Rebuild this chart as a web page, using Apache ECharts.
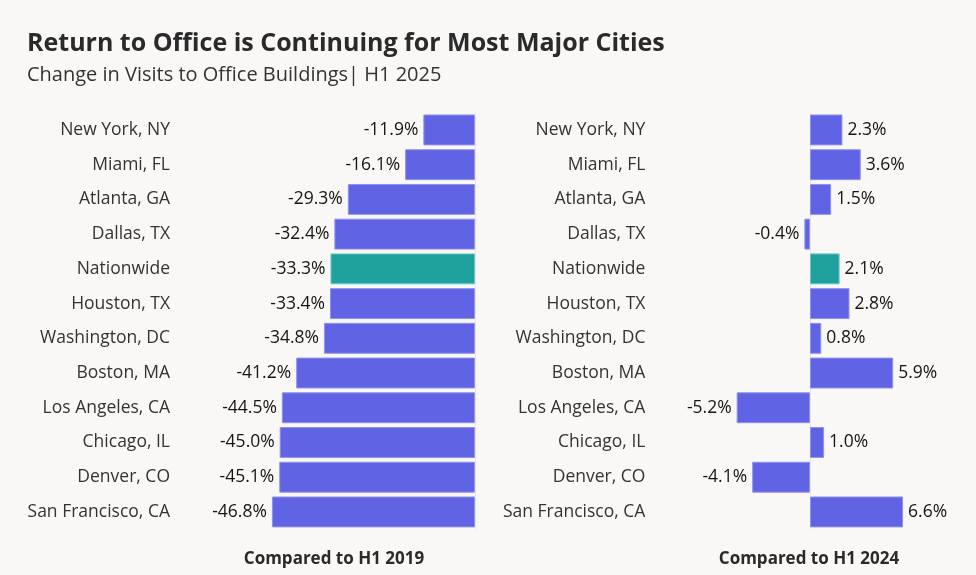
<!DOCTYPE html>
<html>
<head>
<meta charset="utf-8">
<script src="https://cdn.jsdelivr.net/npm/echarts@6/dist/echarts.min.js"></script>
<style>
html,body{margin:0;padding:0;background:#f9f8f6;}
#c{width:976px;height:575px;}
</style>
</head>
<body>
<div id="c"></div>
<script>
const cities = ['New York, NY','Miami, FL','Atlanta, GA','Dallas, TX','Nationwide','Houston, TX','Washington, DC','Boston, MA','Los Angeles, CA','Chicago, IL','Denver, CO','San Francisco, CA'];
const vs2019 = [-11.9,-16.1,-29.3,-32.4,-33.3,-33.4,-34.8,-41.2,-44.5,-45.0,-45.1,-46.8];
const vs2024 = [2.3,3.6,1.5,-0.4,2.1,2.8,0.8,5.9,-5.2,1.0,-4.1,6.6];
const highlight = 'Nationwide';

const FONT = '"Open Sans", sans-serif';
const BLUE = '#6063e3', BLUE_B = '#8f92ee';
const TEAL = '#1fa29d', TEAL_B = '#6cc7c2';

function mkData(vals){
  return vals.map((v,i)=>({
    value: v,
    itemStyle: cities[i]===highlight ? {color:TEAL,borderColor:TEAL_B} : {color:BLUE,borderColor:BLUE_B},
    label: {position: v<0 ? 'left' : 'right'}
  }));
}

const chart = echarts.init(document.getElementById('c'), null, {renderer:'canvas'});
const TOP = 112.6, BOTTOM = 575-529.3;
const catAxis = (gi)=>({
  type:'category', gridIndex:gi, data:cities, inverse:true,
  axisLine:{show:false}, axisTick:{show:false},
  axisLabel:{fontFamily:FONT, fontSize:17.5, color:'#333', margin: gi===0 ? 88 : 80,
    padding:[5,0,0,0]}
});
const valAxis = (gi,min,max)=>({
  type:'value', gridIndex:gi, min:min, max:max,
  axisLine:{show:false}, axisTick:{show:false}, axisLabel:{show:false}, splitLine:{show:false}
});
const series = (gi,vals)=>({
  type:'bar', xAxisIndex:gi, yAxisIndex:gi, data:mkData(vals),
  barCategoryGap:'11%',
  itemStyle:{borderWidth:1},
  label:{show:true, distance:5, fontFamily:FONT, fontSize:17.5, color:'#151515',
    padding:[4,0,0,0],
    formatter:p=>p.value.toFixed(1)+'%'},
  markLine:{silent:true, symbol:'none', label:{show:false},
    lineStyle:{color:'#e6e6e6', type:'solid', width:1}, data:[{xAxis:0}], z:1},
  animation:false
});

chart.setOption({
  backgroundColor:'#f9f8f6',
  animation:false,
  title:[
    {text:'Return to Office is Continuing for Most Major Cities', left:22, top:26,
      textStyle:{fontFamily:FONT, fontSize:25, fontWeight:'bold', color:'#2a2a2a'}},
    {text:'Change in Visits to Office Buildings| H1 2025', left:22, top:60,
      textStyle:{fontFamily:FONT, fontSize:20, fontWeight:'normal', color:'#333'}},
    {text:'Compared to H1 2019', left:329, top:546, textAlign:'center',
      textStyle:{fontFamily:FONT, fontSize:17, fontWeight:'bold', color:'#2a2a2a'}},
    {text:'Compared to H1 2024', left:804, top:546, textAlign:'center',
      textStyle:{fontFamily:FONT, fontSize:17, fontWeight:'bold', color:'#2a2a2a'}}
  ],
  grid:[
    {left:258, width:217, top:TOP, bottom:BOTTOM},
    {left:725.4, width:197.4, top:TOP, bottom:BOTTOM}
  ],
  xAxis:[valAxis(0,-50,0), valAxis(1,-6,8)],
  yAxis:[catAxis(0), catAxis(1)],
  series:[series(0,vs2019), series(1,vs2024)]
});
</script>
</body>
</html>
